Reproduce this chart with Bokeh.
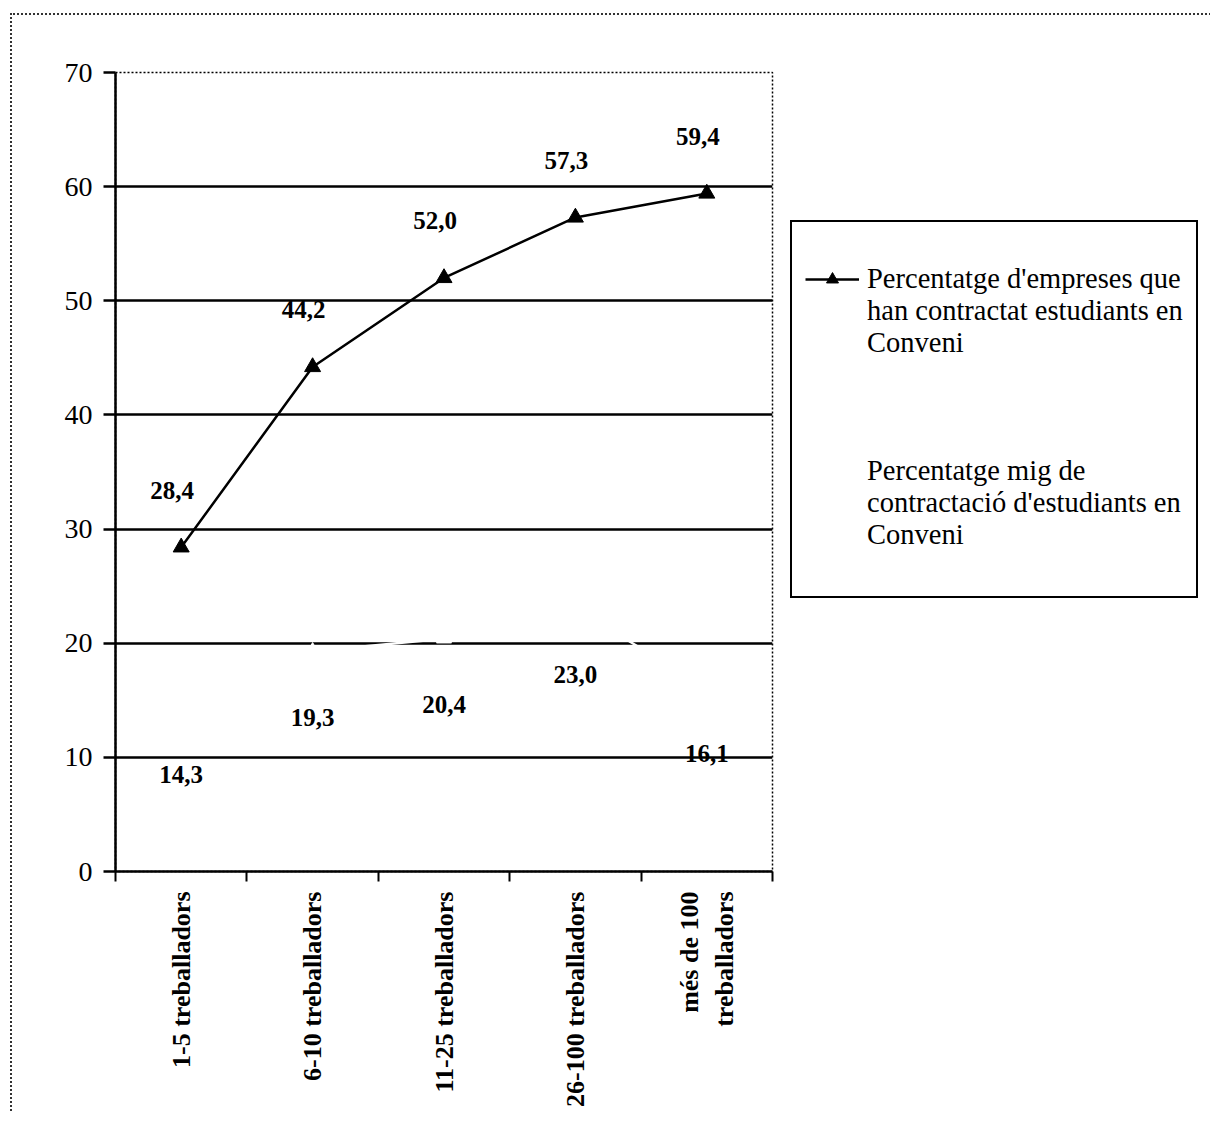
import math
from bokeh.plotting import figure
from bokeh.models import Range1d, FixedTicker, Legend, LegendItem
from bokeh.core.properties import value
from bokeh.embed import file_html
from bokeh.resources import INLINE

categories = ["1-5 treballadors", "6-10 treballadors", "11-25 treballadors",
              "26-100 treballadors", "més de 100\ntreballadors"]
empreses = [28.4, 44.2, 52.0, 57.3, 59.4]
mig = [14.3, 19.3, 20.4, 23.0, 16.1]
y_ticks = [0, 10, 20, 30, 40, 50, 60, 70]
series1_lines = ["Percentatge d'empreses que", "han contractat estudiants en", "Conveni"]
series2_lines = ["Percentatge mig de", "contractació d'estudiants en", "Conveni"]

SERIF = "Liberation Serif"
xs = list(range(1, len(categories) + 1))


def fmt(v):
    return f"{v:.1f}".replace(".", ",")


p = figure(frame_width=657, frame_height=799,
           min_border_left=103, min_border_right=430,
           min_border_top=57, min_border_bottom=240,
           x_range=Range1d(0.5, len(categories) + 0.5),
           y_range=Range1d(y_ticks[0], y_ticks[-1]),
           output_backend="svg", toolbar_location=None,
           background_fill_color="white", border_fill_color="white")

p.outline_line_color = "black"
p.outline_line_dash = "2 2"
p.outline_line_width = 1.5

p.xgrid.visible = False
p.ygrid.ticker = FixedTicker(ticks=y_ticks[1:-1])
p.ygrid.grid_line_color = "black"
p.ygrid.grid_line_width = 2.5

# y axis
p.yaxis.ticker = FixedTicker(ticks=y_ticks, minor_ticks=[])
p.yaxis.axis_line_width = 2.5
p.yaxis.axis_line_color = "black"
p.yaxis.major_tick_out = 12
p.yaxis.major_tick_in = 0
p.yaxis.major_tick_line_width = 2.5
p.yaxis.major_tick_line_color = "black"
p.yaxis.minor_tick_line_color = None
p.yaxis.major_label_text_font = SERIF
p.yaxis.major_label_text_font_size = "28px"
p.yaxis.major_label_text_color = "black"
p.yaxis.major_label_standoff = 11

# x axis
p.xaxis.ticker = FixedTicker(ticks=xs, minor_ticks=[x - 0.5 for x in xs] + [xs[-1] + 0.5])
p.xaxis.major_label_overrides = {x: c for x, c in zip(xs, categories)}
p.xaxis.major_label_orientation = math.pi / 2
p.xaxis.axis_line_width = 2.5
p.xaxis.axis_line_color = "black"
p.xaxis.major_tick_out = 0
p.xaxis.major_tick_in = 0
p.xaxis.major_tick_line_color = None
p.xaxis.minor_tick_out = 10
p.xaxis.minor_tick_in = 0
p.xaxis.minor_tick_line_width = 2
p.xaxis.minor_tick_line_color = "black"
p.xaxis.major_label_text_font = SERIF
p.xaxis.major_label_text_font_style = "bold"
p.xaxis.major_label_text_font_size = "26px"
p.xaxis.major_label_text_color = "black"
p.xaxis.major_label_standoff = 10

# series 2 (white, almost invisible)
l2 = p.line(xs, mig, line_color="white", line_width=2.5)
s2 = p.scatter(xs, mig, marker="triangle", size=15, fill_color="white", line_color="white")
# series 1
l1 = p.line(xs, empreses, line_color="black", line_width=2.5)
s1 = p.scatter(xs, empreses, marker="triangle", size=16, fill_color="black", line_color="black")

p.text(xs, empreses, text=[fmt(v) for v in empreses], x_offset=-9, y_offset=-57,
       text_align="center", text_baseline="middle", text_font=value(SERIF),
       text_font_style="bold", text_font_size="25px", text_color="black")
p.text(xs, mig, text=[fmt(v) for v in mig], x_offset=0, y_offset=66,
       text_align="center", text_baseline="middle", text_font=value(SERIF),
       text_font_style="bold", text_font_size="25px", text_color="black")

legend = Legend(items=[
    LegendItem(label=series1_lines[0], renderers=[l1, s1]),
    LegendItem(label="\n".join(series1_lines[1:]) + "\n \n \n ", renderers=[l2]),
    LegendItem(label="\n".join(series2_lines) + "\n ", renderers=[l2, s2]),
], location=(18, 273))
legend.title = " "
legend.title_text_font_size = "20px"
legend.title_standoff = 5
legend.border_line_color = "black"
legend.border_line_alpha = 1
legend.border_line_width = 2
legend.background_fill_color = "white"
legend.background_fill_alpha = 1
legend.label_text_font = SERIF
legend.label_text_font_size = "28.5px"
legend.label_text_color = "black"
legend.padding = 13
legend.spacing = 0
legend.glyph_width = 54
legend.glyph_height = 30
legend.label_standoff = 8
legend.margin = 0
p.add_layout(legend, "right")

p.styles = {"border-top": "2px dotted #333", "border-left": "2px dotted #333",
            "margin-left": "10px", "margin-top": "13px"}

open("out.html", "w").write(file_html(p, INLINE))
